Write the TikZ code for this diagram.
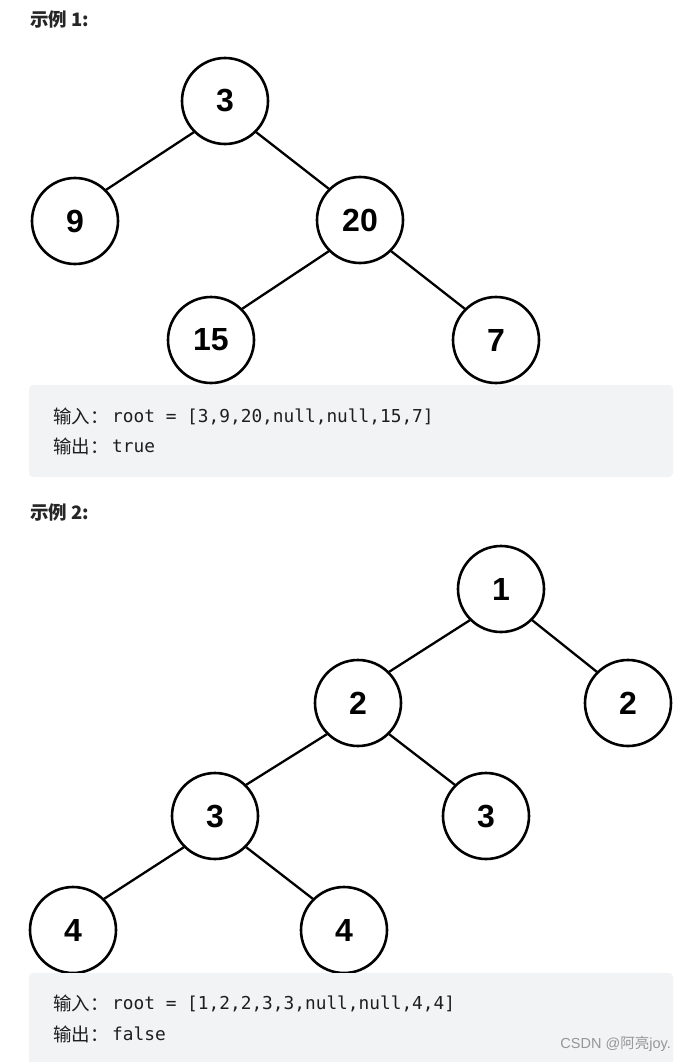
\documentclass[tikz,border=0pt]{standalone}
\usepackage{fontspec}
\setmainfont{Liberation Sans}
\newfontfamily\cjk{Noto Sans CJK SC}
\newfontfamily\codefont{DejaVu Sans Mono}
\definecolor{codebg}{RGB}{242,243,245}
\definecolor{codetext}{RGB}{30,30,30}
\definecolor{wm}{RGB}{150,150,150}
\begin{document}
\begin{tikzpicture}[x=1pt,y=-1pt,
  tn/.style={circle,draw=black,line width=2.6pt,minimum size=86pt,inner sep=0pt,
    font=\fontsize{32}{32}\selectfont\bfseries},
  edge/.style={line width=2.3pt},
  codebox/.style={fill=codebg,rounded corners=4pt},
  codeline/.style={anchor=base west,inner sep=0pt,text=codetext,font=\codefont\fontsize{17.8}{17.8}\selectfont},
  cjkline/.style={anchor=base west,inner sep=0pt,text=codetext,font=\cjk\fontsize{18.5}{18.5}\selectfont},
  title/.style={anchor=base west,inner sep=0pt,font=\cjk\fontsize{18.5}{18.5}\selectfont\bfseries,text=black!85}]
\useasboundingbox (0,0) rectangle (686,1062);
\fill[white] (0,0) rectangle (686,1062);
% Example 1
\node[title] (t1) at (30,27) {示例 1:};
\node[tn] (a3) at (225,101) {3};
\node[tn] (a9) at (75,221) {9};
\node[tn] (a20) at (360,220) {20};
\node[tn] (a15) at (211,340) {15};
\node[tn] (a7) at (496,340) {7};
\draw[edge] (a3.south west) -- (a9.north east);
\draw[edge] (a3.south east) -- (a20.north west);
\draw[edge] (a20.south west) -- (a15.north east);
\draw[edge] (a20.south east) -- (a7.north west);
\fill[codebox] (29,385) rectangle (673,477);
\node[cjkline] (in1l) at (53,423) {输入：};
\node[codeline] (in1) at (112,422) {root = [3,9,20,null,null,15,7]};
\node[cjkline] (out1l) at (53,453) {输出：};
\node[codeline] (out1) at (112,452) {true};
% Example 2
\node[title] (t2) at (30,519) {示例 2:};
\node[tn] (b1) at (501,589) {1};
\node[tn] (b2l) at (358,703) {2};
\node[tn] (b2r) at (628,703) {2};
\node[tn] (b3l) at (215,816) {3};
\node[tn] (b3r) at (486,816) {3};
\node[tn] (b4l) at (73,930) {4};
\node[tn] (b4r) at (344,930) {4};
\draw[edge] (b1.south west) -- (b2l.north east);
\draw[edge] (b1.south east) -- (b2r.north west);
\draw[edge] (b2l.south west) -- (b3l.north east);
\draw[edge] (b2l.south east) -- (b3r.north west);
\draw[edge] (b3l.south west) -- (b4l.north east);
\draw[edge] (b3l.south east) -- (b4r.north west);
\fill[codebox] (29,973) rectangle (673,1068);
\node[cjkline] (in2l) at (53,1010) {输入：};
\node[codeline] (in2) at (112,1009) {root = [1,2,2,3,3,null,null,4,4]};
\node[cjkline] (out2l) at (53,1041) {输出：};
\node[codeline] (out2) at (112,1040) {false};
\node[anchor=base east,inner sep=0pt,text=wm,font=\fontsize{14.5}{14.5}\selectfont] (wmk) at (671,1048) {CSDN @{\cjk 阿亮}joy.};
\end{tikzpicture}
\end{document}
